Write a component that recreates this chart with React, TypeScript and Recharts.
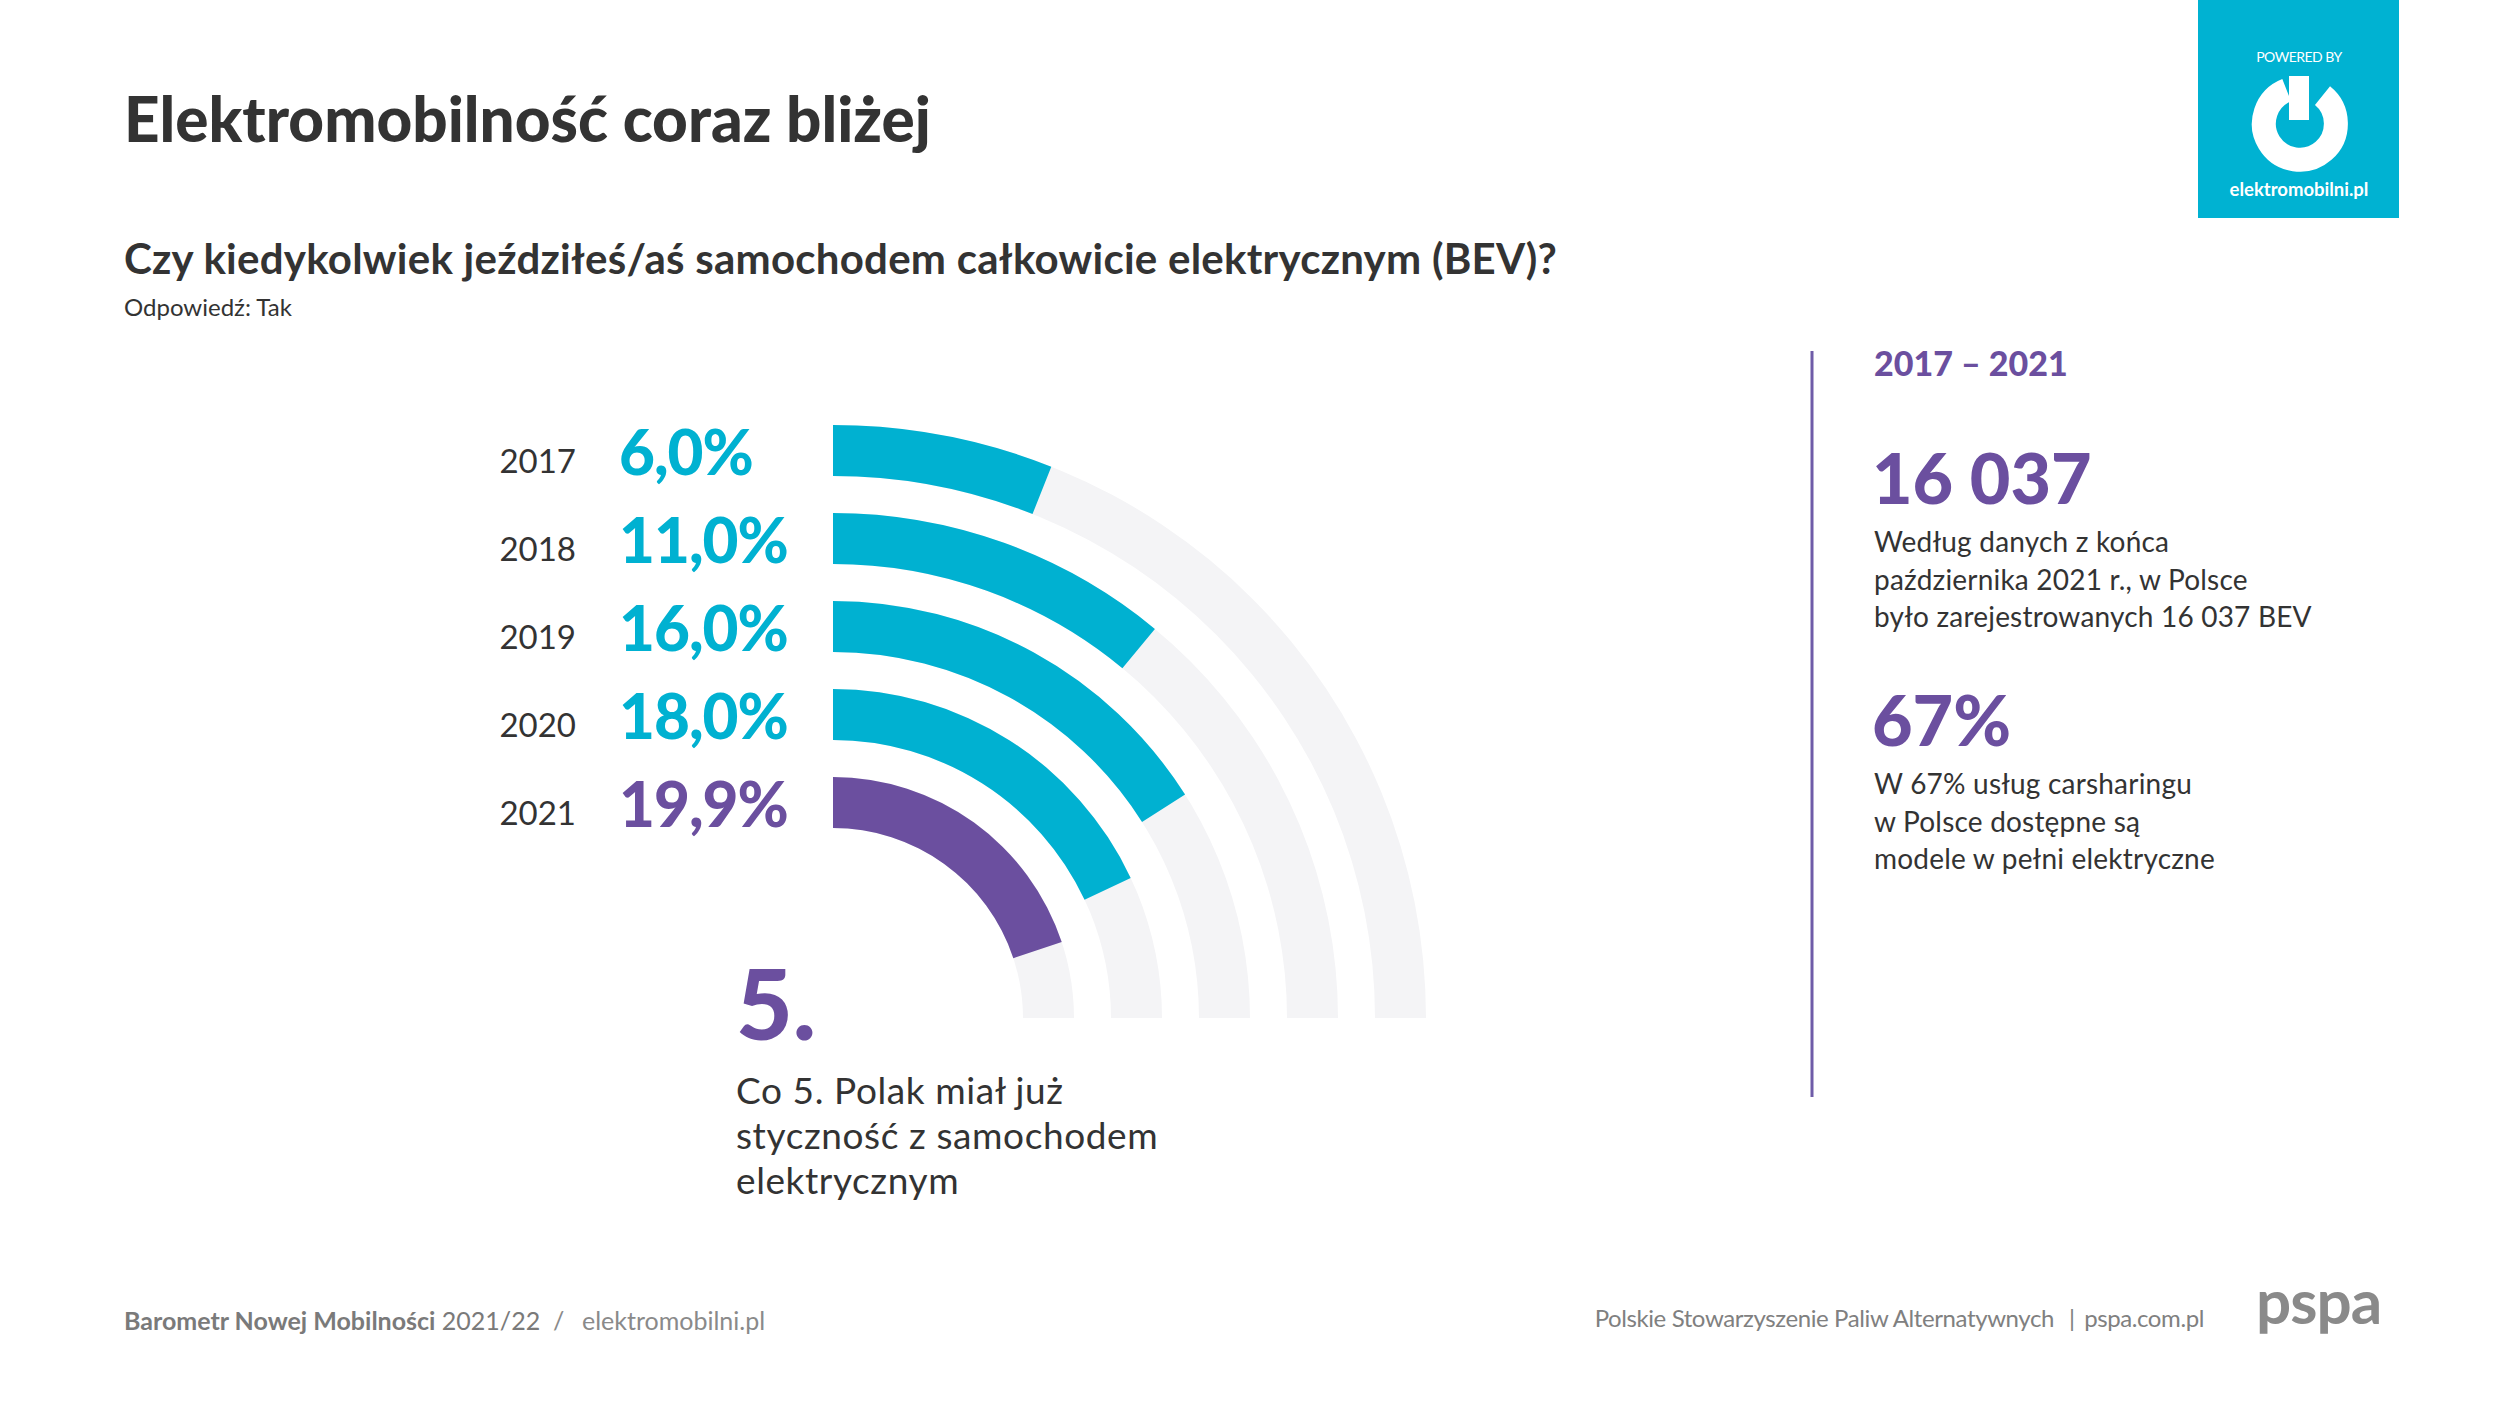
import { RadialBarChart, RadialBar, PolarAngleAxis, PolarRadiusAxis, Cell, LabelList } from 'recharts';

const years = ['2017', '2018', '2019', '2020', '2021'];
const shares = [6.0, 11.0, 16.0, 18.0, 19.9];
const barColors = ['#00B1D1', '#00B1D1', '#00B1D1', '#00B1D1', '#6B4F9F'];
const angleMax = 25; // a quarter circle stands for 25%

const sideYears = '2017 – 2021';
const sideFacts = [
  { big: '16 037', lines: ['Według danych z końca', 'października 2021 r., w Polsce', 'było zarejestrowanych 16 037 BEV'] },
  { big: '67%', lines: ['W 67% usług carsharingu', 'w Polsce dostępne są', 'modele w pełni elektryczne'] },
];
const captionLines = ['Co 5. Polak miał już', 'styczność z samochodem', 'elektrycznym'];

const CYAN = '#00B1D1';
const PURPLE = '#6B4F9F';
const DARK = '#333333';
const FONT = 'Lato, "Open Sans", sans-serif';

// radius axis puts the first row innermost, so 2021 goes first
const chartData = years.map((year, i) => ({ year, value: shares[i], color: barColors[i] })).reverse();

const fmt = (v: number) => `${v.toFixed(1).replace('.', ',')}%`;

function renderLabel(props: any) {
  const vb = props.viewBox ?? props;
  const { cx, cy, innerRadius, outerRadius } = vb;
  const entry = chartData[props.index] ?? chartData.find((d) => d.value === props.value);
  if (!entry || cx == null) return null;
  const y = cy - (innerRadius + outerRadius) / 2;
  return (
    <g>
      <text x={cx - 257} y={y + 9} textAnchor="end" dominantBaseline="central" fontFamily={FONT} fontSize={33} fill={DARK}>
        {entry.year}
      </text>
      <text x={cx - 214} y={y} dominantBaseline="central" fontFamily={FONT} fontWeight={900} fontSize={62} letterSpacing={-1} fill={entry.color}>
        {fmt(entry.value)}
      </text>
    </g>
  );
}

export default function App() {
  return (
    <div style={{ position: 'absolute', left: 0, top: 0, width: 2501, height: 1407, background: '#ffffff', overflow: 'hidden' }}>
      <div style={{ position: 'absolute', left: 0, top: 0 }}>
        <RadialBarChart
          width={1500}
          height={1100}
          data={chartData}
          cx={833}
          cy={1018}
          innerRadius={171}
          outerRadius={611}
          startAngle={90}
          endAngle={0}
          barSize={51}
          margin={{ top: 0, right: 0, bottom: 0, left: 0 }}
        >
          <PolarAngleAxis type="number" domain={[0, angleMax]} tick={false} axisLine={false} />
          <PolarRadiusAxis type="category" dataKey="year" tick={false} axisLine={false} />
          <RadialBar dataKey="value" background={{ fill: '#F4F4F6' }} isAnimationActive={false}>
            {chartData.map((d) => (
              <Cell key={d.year} fill={d.color} />
            ))}
            <LabelList dataKey="value" content={renderLabel} />
          </RadialBar>
        </RadialBarChart>
      </div>

      <svg width={2501} height={1407} style={{ position: 'absolute', left: 0, top: 0, pointerEvents: 'none' }} fontFamily={FONT}>
        <text x={124} y={142} fontSize={62} fontWeight={900} fill={DARK}>Elektromobilność coraz bliżej</text>
        <text x={124} y={274} fontSize={42} fontWeight={700} fill={DARK} letterSpacing={0.25}>
          Czy kiedykolwiek jeździłeś/aś samochodem całkowicie elektrycznym (BEV)?
        </text>
        <text x={124} y={316} fontSize={24} fill={DARK}>Odpowiedź: Tak</text>

        <text x={736} y={1040} fontSize={98} fontWeight={900} fill={PURPLE}>5.</text>
        {captionLines.map((l, i) => (
          <text key={l} x={736} y={1104 + i * 45} fontSize={37} fill={DARK} letterSpacing={0.6}>{l}</text>
        ))}

        <line x1={1812} y1={351} x2={1812} y2={1097} stroke="#6F5CA8" strokeWidth={3} />
        <text x={1874} y={376} fontSize={34} fontWeight={900} fill={PURPLE}>{sideYears}</text>
        {sideFacts.map((f, k) => (
          <g key={f.big}>
            <text x={1872} y={504 + k * 242} fontSize={70} fontWeight={900} fill={PURPLE}>{f.big}</text>
            {f.lines.map((l, i) => (
              <text key={l} x={1874} y={552 + k * 242 + i * 37.5} fontSize={28} fill={DARK} letterSpacing={0.2}>{l}</text>
            ))}
          </g>
        ))}

        <rect x={2198} y={0} width={201} height={218} fill="#00B2D2" />
        <text x={2299} y={62} textAnchor="middle" fontSize={14} fill="#ffffff" letterSpacing={-0.5}>POWERED BY</text>
        <path d="M 2322.5 95.7 A 36 36 0 1 1 2286.7 90.2" fill="none" stroke="#ffffff" strokeWidth={24} />
        <rect x={2289} y={76} width={20} height={44} fill="#ffffff" />
        <text x={2299} y={196} textAnchor="middle" fontSize={18.5} fontWeight={700} fill="#ffffff">elektromobilni.pl</text>

        <text x={124} y={1330} fontSize={25} fill="#7a7a7a">
          <tspan fontWeight={700}>Barometr Nowej Mobilności</tspan>
          <tspan> 2021/22</tspan>
        </text>
        <text x={553} y={1330} fontSize={25} fill="#8a8a8a">/</text>
        <text x={582} y={1330} fontSize={25} fill="#8a8a8a">elektromobilni.pl</text>

        <text x={2054} y={1327} textAnchor="end" fontSize={24} fill="#808080" letterSpacing={-0.4}>
          Polskie Stowarzyszenie Paliw Alternatywnych
        </text>
        <text x={2069} y={1327} fontSize={24} fill="#808080">|</text>
        <text x={2204} y={1327} textAnchor="end" fontSize={24} fill="#808080" letterSpacing={-0.4}>pspa.com.pl</text>
        <text x={2256} y={1324} fontSize={62} fontWeight={700} fill="#8a8a8a" letterSpacing={-1}>pspa</text>
      </svg>
    </div>
  );
}
